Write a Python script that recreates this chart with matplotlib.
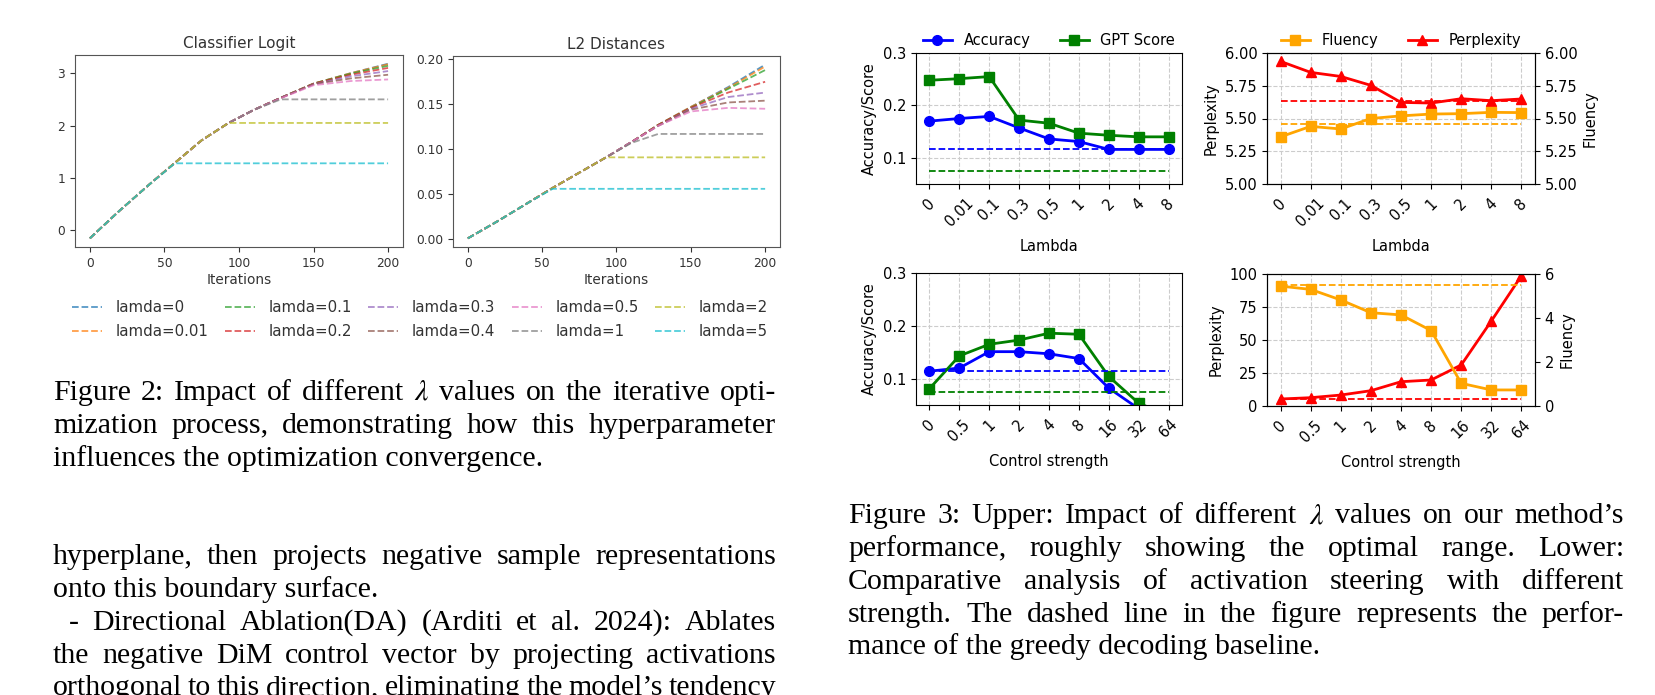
import matplotlib
matplotlib.use("Agg")
import matplotlib.pyplot as plt

W, H = 1656, 695

# ---------------- Figure 2 data ----------------
iters = [0, 20, 40, 57, 75, 93, 110, 128, 150, 175, 200]
lam_labels = ["lamda=0", "lamda=0.01", "lamda=0.1", "lamda=0.2", "lamda=0.3",
              "lamda=0.4", "lamda=0.5", "lamda=1", "lamda=2", "lamda=5"]
lam_colors = ["tab:blue", "tab:orange", "tab:green", "tab:red", "tab:purple",
              "tab:brown", "tab:pink", "tab:gray", "tab:olive", "tab:cyan"]

logit_0 = [-0.15, 0.38, 0.88, 1.29, 1.72, 2.05, 2.30, 2.53, 2.80, 3.00, 3.18]
logit_001 = [-0.15, 0.38, 0.88, 1.29, 1.72, 2.05, 2.30, 2.53, 2.80, 3.00, 3.17]
logit_01 = [-0.15, 0.38, 0.88, 1.29, 1.72, 2.05, 2.30, 2.53, 2.80, 2.99, 3.14]
logit_02 = [-0.15, 0.38, 0.88, 1.29, 1.72, 2.05, 2.30, 2.53, 2.80, 2.97, 3.10]
logit_03 = [-0.15, 0.38, 0.88, 1.29, 1.72, 2.05, 2.30, 2.53, 2.79, 2.94, 3.04]
logit_04 = [-0.15, 0.38, 0.88, 1.29, 1.72, 2.05, 2.30, 2.53, 2.79, 2.90, 2.97]
logit_05 = [-0.15, 0.38, 0.88, 1.29, 1.72, 2.05, 2.30, 2.52, 2.77, 2.85, 2.88]
logit_1 = [-0.15, 0.38, 0.88, 1.29, 1.72, 2.05, 2.30, 2.50, 2.50, 2.50, 2.50]
logit_2 = [-0.15, 0.38, 0.88, 1.29, 1.72, 2.05, 2.05, 2.05, 2.05, 2.05, 2.05]
logit_5 = [-0.15, 0.38, 0.88, 1.28, 1.28, 1.28, 1.28, 1.28, 1.28, 1.28, 1.28]

l2_0 = [0.001, 0.020, 0.040, 0.057, 0.074, 0.091, 0.108, 0.127, 0.147, 0.169, 0.194]
l2_001 = [0.001, 0.020, 0.040, 0.057, 0.074, 0.091, 0.108, 0.127, 0.147, 0.168, 0.192]
l2_01 = [0.001, 0.020, 0.040, 0.057, 0.074, 0.091, 0.108, 0.127, 0.146, 0.167, 0.188]
l2_02 = [0.001, 0.020, 0.040, 0.057, 0.074, 0.091, 0.108, 0.127, 0.146, 0.163, 0.175]
l2_03 = [0.001, 0.020, 0.040, 0.057, 0.074, 0.091, 0.108, 0.126, 0.145, 0.158, 0.163]
l2_04 = [0.001, 0.020, 0.040, 0.057, 0.074, 0.091, 0.108, 0.126, 0.144, 0.152, 0.154]
l2_05 = [0.001, 0.020, 0.040, 0.057, 0.074, 0.091, 0.108, 0.126, 0.142, 0.146, 0.145]
l2_1 = [0.001, 0.020, 0.040, 0.057, 0.074, 0.091, 0.107, 0.117, 0.117, 0.117, 0.117]
l2_2 = [0.001, 0.020, 0.040, 0.057, 0.074, 0.091, 0.091, 0.091, 0.091, 0.091, 0.091]
l2_5 = [0.001, 0.020, 0.040, 0.056, 0.056, 0.056, 0.056, 0.056, 0.056, 0.056, 0.056]

logit_curves = [logit_0, logit_001, logit_01, logit_02, logit_03,
                logit_04, logit_05, logit_1, logit_2, logit_5]
l2_curves = [l2_0, l2_001, l2_01, l2_02, l2_03, l2_04, l2_05, l2_1, l2_2, l2_5]

# ---------------- Figure 3 data ----------------
lambda_ticks = ["0", "0.01", "0.1", "0.3", "0.5", "1", "2", "4", "8"]
strength_ticks = ["0", "0.5", "1", "2", "4", "8", "16", "32", "64"]

lam_accuracy = [0.170, 0.175, 0.179, 0.157, 0.136, 0.131, 0.116, 0.116, 0.116]
lam_gpt = [0.248, 0.251, 0.255, 0.172, 0.166, 0.147, 0.143, 0.140, 0.140]
lam_acc_base = 0.1165
lam_gpt_base = 0.075
lam_perplexity = [5.936, 5.852, 5.821, 5.753, 5.623, 5.618, 5.651, 5.636, 5.649]
lam_fluency = [5.36, 5.44, 5.42, 5.50, 5.52, 5.534, 5.537, 5.547, 5.545]
lam_ppl_base = 5.635
lam_flu_base = 5.46

cs_accuracy = [0.114, 0.120, 0.151, 0.151, 0.147, 0.138, 0.082, 0.043, 0.02]
cs_gpt = [0.081, 0.143, 0.165, 0.173, 0.186, 0.184, 0.104, 0.0535, 0.03]
cs_acc_base = 0.114
cs_gpt_base = 0.074
cs_perplexity = [5.3, 6.3, 8.3, 11.6, 18.4, 19.7, 31.1, 64.4, 98.7]
cs_fluency = [5.45, 5.30, 4.82, 4.24, 4.14, 3.43, 1.03, 0.73, 0.73]
cs_ppl_base = 5.3
cs_flu_base = 5.48

# ---------------- page text ----------------
cap2_lines = [
    "Figure 2: Impact of different $\\lambda$ values on the iterative opti-",
    "mization process, demonstrating how this hyperparameter",
    "influences the optimization convergence.",
]
body_lines = [
    "hyperplane, then projects negative sample representations",
    "onto this boundary surface.",
    "- Directional Ablation(DA) (Arditi et al. 2024): Ablates",
    "the negative DiM control vector by projecting activations",
    "orthogonal to this direction, eliminating the model\u2019s tendency",
]
cap3_lines = [
    "Figure 3: Upper: Impact of different $\\lambda$ values on our method\u2019s",
    "performance, roughly showing the optimal range. Lower:",
    "Comparative analysis of activation steering with different",
    "strength. The dashed line in the figure represents the perfor-",
    "mance of the greedy decoding baseline.",
]

plt.rcParams["mathtext.fontset"] = "stix"
fig = plt.figure(figsize=(W / 100, H / 100), dpi=100)


def box(x0, y0, x1, y1):
    return [x0 / W, 1 - y1 / H, (x1 - x0) / W, (y1 - y0) / H]


# ---------------- Figure 2 ----------------
gray_txt = "#333333"
ax_a = fig.add_axes(box(75, 55, 403, 247))
ax_b = fig.add_axes(box(453, 56, 780, 247))
handles = []
for lab, col, yl, yd in zip(lam_labels, lam_colors, logit_curves, l2_curves):
    h, = ax_a.plot(iters, yl, "--", color=col, lw=1.3, alpha=0.75, label=lab)
    ax_b.plot(iters, yd, "--", color=col, lw=1.3, alpha=0.75)
    handles.append(h)
for ax, title in [(ax_a, "Classifier Logit"), (ax_b, "L2 Distances")]:
    ax.set_title(title, fontsize=11, color=gray_txt, pad=5)
    ax.set_xlabel("Iterations", fontsize=9.8, color=gray_txt, labelpad=2)
    ax.set_xticks([0, 50, 100, 150, 200])
    ax.tick_params(labelsize=8.8, colors=gray_txt)
    for s in ax.spines.values():
        s.set_color("#555555")
ax_a.set_yticks([0, 1, 2, 3])
ax_b.set_yticks([0.0, 0.05, 0.10, 0.15, 0.20])
ax_b.yaxis.set_major_formatter(matplotlib.ticker.FormatStrFormatter("%.2f"))
fig.legend(handles=handles, loc="center", bbox_to_anchor=(420 / W, 1 - 320 / H),
           ncol=5, frameon=False, fontsize=10.8, labelcolor=gray_txt,
           handlelength=2.0, handletextpad=0.9, columnspacing=1.1, labelspacing=0.6)

# ---------------- Figure 3 ----------------
pos = list(range(9))


def style(ax):
    ax.grid(True, linestyle="--", color="#cccccc", lw=0.8)
    ax.set_axisbelow(True)
    ax.set_xlim(-0.45, 8.45)
    ax.set_xticks(pos)
    ax.tick_params(labelsize=10.5)
    ax.tick_params(axis="x", pad=5)


ul = fig.add_axes(box(916, 53, 1182, 184))
ll = fig.add_axes(box(916, 273, 1182, 405))
for ax, acc, gpt, ab, gb, ticks, xl in [
        (ul, lam_accuracy, lam_gpt, lam_acc_base, lam_gpt_base, lambda_ticks, "Lambda"),
        (ll, cs_accuracy, cs_gpt, cs_acc_base, cs_gpt_base, strength_ticks, "Control strength")]:
    style(ax)
    h1, = ax.plot(pos, acc, "-o", color="blue", lw=2, ms=7, label="Accuracy")
    h2, = ax.plot(pos, gpt, "-s", color="green", lw=2, ms=7, label="GPT Score")
    ax.hlines(ab, 0, 8, colors="blue", linestyles="--", lw=1.3)
    ax.hlines(gb, 0, 8, colors="green", linestyles="--", lw=1.3)
    ax.set_ylim(0.05, 0.3)
    ax.set_yticks([0.1, 0.2, 0.3])
    ax.set_xticklabels(ticks, rotation=45)
    ax.set_ylabel("Accuracy/Score", fontsize=10.5)
    ax.set_xlabel(xl, fontsize=10.5, labelpad=7)
ul.legend(handles=[h1, h2], loc="lower center", bbox_to_anchor=(0.5, 0.995), ncol=2,
          frameon=False, fontsize=10.5, borderaxespad=0.0, handletextpad=0.8)

ur = fig.add_axes(box(1267, 53, 1535, 184))
lr = fig.add_axes(box(1267, 274, 1535, 406))
for ax, ppl, flu, pb, fb, ticks, xl, lims, rlims, lt, rt in [
        (ur, lam_perplexity, lam_fluency, lam_ppl_base, lam_flu_base, lambda_ticks, "Lambda",
         (5, 6), (5, 6), [5.0, 5.25, 5.5, 5.75, 6.0], [5.0, 5.25, 5.5, 5.75, 6.0]),
        (lr, cs_perplexity, cs_fluency, cs_ppl_base, cs_flu_base, strength_ticks, "Control strength",
         (0, 100), (0, 6), [0, 25, 50, 75, 100], [0, 2, 4, 6])]:
    style(ax)
    ax2 = ax.twinx()
    hp, = ax.plot(pos, ppl, "-^", color="red", lw=2, ms=7, label="Perplexity")
    ax.hlines(pb, 0, 8, colors="red", linestyles="--", lw=1.3)
    hf, = ax2.plot(pos, flu, "-s", color="orange", lw=2, ms=7, label="Fluency")
    ax2.hlines(fb, 0, 8, colors="orange", linestyles="--", lw=1.3)
    ax.set_ylim(*lims)
    ax2.set_ylim(*rlims)
    ax.set_yticks(lt)
    ax2.set_yticks(rt)
    ax.set_xticklabels(ticks, rotation=45)
    ax.set_ylabel("Perplexity", fontsize=10.5)
    ax2.set_ylabel("Fluency", fontsize=10.5)
    ax.set_xlabel(xl, fontsize=10.5, labelpad=7)
    ax2.tick_params(labelsize=10.5)
    if ax is ur:
        ax.yaxis.set_major_formatter(matplotlib.ticker.FormatStrFormatter("%.2f"))
        ax2.yaxis.set_major_formatter(matplotlib.ticker.FormatStrFormatter("%.2f"))
        ax2.legend(handles=[hf, hp], loc="lower center", bbox_to_anchor=(0.5, 0.995), ncol=2,
                   frameon=False, fontsize=10.5, borderaxespad=0.0, handletextpad=0.8)

# ---------------- page text (justified like the paper) ----------------
renderer = fig.canvas.get_renderer()
serif = "Liberation Serif"
fsize = 21.5


def put_line(x0, x1, y, s, justify=True):
    if not justify:
        fig.text(x0 / W, 1 - y / H, s, family=serif, fontsize=fsize, va="center", ha="left")
        return
    words = s.split(" ")
    size = fsize
    while True:
        texts = [fig.text(0, 1 - y / H, w, family=serif, fontsize=size, va="center", ha="left")
                 for w in words]
        widths = [t.get_window_extent(renderer).width for t in texts]
        gap = (x1 - x0 - sum(widths)) / (len(words) - 1)
        if gap >= 0.2 * size or size < 12:
            break
        for t in texts:
            t.remove()
        size -= 0.5
    x = x0
    for t, w in zip(texts, widths):
        t.set_x(x / W)
        x += w + gap


for i, (s, y) in enumerate(zip(cap2_lines, [393, 426, 459])):
    put_line(53, 776, y, s, justify=(i < 2))
for i, (s, y) in enumerate(zip(body_lines, [557, 590, 623, 656, 688])):
    x0 = 69 if i == 2 else 53
    put_line(x0, 776, y, s, justify=(i != 1))
for i, (s, y) in enumerate(zip(cap3_lines, [516, 549, 582, 615, 647])):
    put_line(848, 1624, y, s, justify=(i < 4))

fig.savefig("out.png", dpi=100)
